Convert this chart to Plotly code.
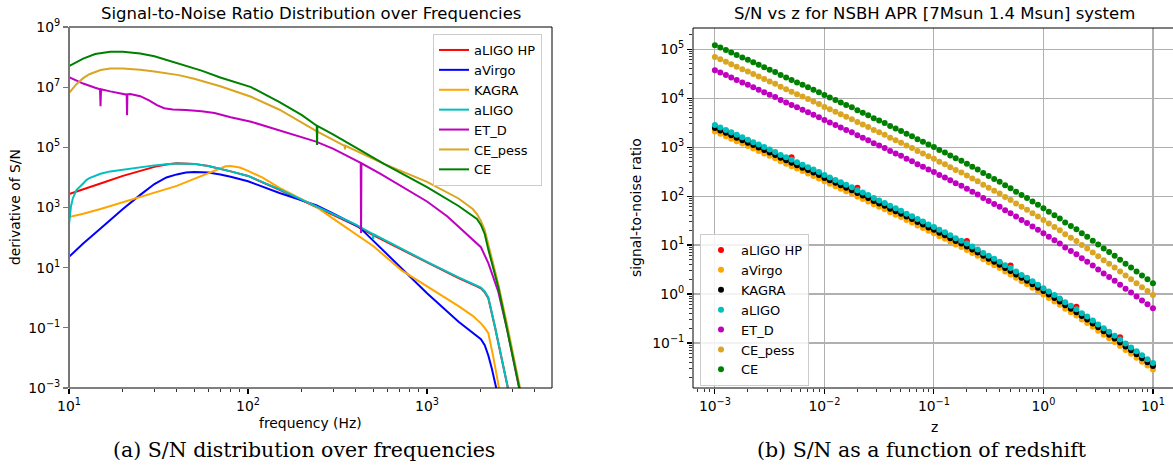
import numpy as np
import plotly.graph_objects as go

W, H = 1173, 466

# ---------------- Panel (a): derivative of S/N vs frequency (values read as log10) ----------------
f_aligo_hp = [10, 12, 15, 20, 25, 30, 35, 40, 50, 60, 80, 100, 150, 200, 240, 300, 400, 500, 700,
              1000, 1500, 1900, 2000, 2100, 2200, 2400, 2600, 2900]
lg_aligo_hp = [3.45, 3.6, 3.8, 4.05, 4.22, 4.35, 4.43, 4.47, 4.45, 4.38, 4.2, 4.05, 3.59, 3.25, 3.03,
               2.75, 2.4, 2.08, 1.64, 1.17, 0.65, 0.38, 0.31, 0.18, -0.02, -1.0, -1.95, -3.3]

f_avirgo = [10, 12, 15, 20, 25, 30, 35, 40, 45, 50, 60, 70, 80, 100, 150, 200, 240, 300, 417, 500,
            660, 1000, 1500, 1700, 1900, 2000, 2100, 2200, 2300, 2500]
lg_avirgo = [1.36, 1.8, 2.3, 2.95, 3.42, 3.78, 4.0, 4.1, 4.16, 4.18, 4.16, 4.1, 4.02, 3.87, 3.48,
             3.22, 3.08, 2.8, 2.36, 1.9, 1.2, 0.15, -0.8, -1.05, -1.25, -1.38, -1.58, -1.92, -2.35, -3.3]

f_kagra = [10, 12, 15, 20, 25, 30, 35, 40, 50, 60, 70, 75, 80, 90, 100, 120, 150, 200, 240, 300,
           400, 500, 725, 1000, 1500, 1800, 2000, 2100, 2200, 2350, 2560]
lg_kagra = [2.68, 2.79, 2.95, 3.17, 3.34, 3.49, 3.62, 3.72, 3.95, 4.15, 4.32, 4.37, 4.38, 4.33, 4.22,
            4.0, 3.65, 3.27, 3.03, 2.62, 2.12, 1.72, 0.9, 0.38, -0.28, -0.6, -0.85, -1.0, -1.18,
            -2.0, -3.2]

f_aligo = [10, 10.1, 10.25, 10.5, 11, 12, 12.5, 13, 15, 17, 20, 25, 30, 35, 40, 50, 60, 80, 100,
           150, 200, 240, 300, 400, 496, 500, 504, 700, 1000, 1500, 1900, 2000, 2100, 2200, 2400,
           2600, 2900]
lg_aligo = [2.42, 2.75, 3.03, 3.3, 3.58, 3.8, 3.91, 3.98, 4.12, 4.2, 4.26, 4.34, 4.4, 4.44, 4.46,
            4.45, 4.38, 4.2, 4.05, 3.6, 3.26, 3.04, 2.77, 2.43, 2.12, 1.95, 2.11, 1.66, 1.19, 0.68,
            0.41, 0.34, 0.21, 0.01, -0.98, -1.93, -3.3]

f_etd = [10, 12, 14, 14.9, 15.0, 15.1, 17, 20, 21.0, 21.1, 21.2, 22, 25, 28, 31, 34, 38, 45, 55,
         65, 80, 104, 150, 240, 300, 426, 428, 430, 550, 700, 1000, 1300, 1670, 2000, 2200, 2500,
         2800, 3100, 3400]
lg_etd = [7.33, 7.12, 6.98, 6.93, 6.37, 6.93, 6.86, 6.77, 6.75, 6.07, 6.76, 6.77, 6.7, 6.56, 6.4,
          6.3, 6.26, 6.24, 6.2, 6.14, 6.0, 5.85, 5.55, 5.19, 4.95, 4.48, 2.15, 4.47, 4.12, 3.75,
          3.2, 2.7, 2.12, 1.68, 1.15, 0.2, -1.05, -2.3, -3.5]

f_ce_pess = [10, 11, 12, 13, 15, 17, 20, 25, 30, 41, 50, 70, 104, 150, 240, 346, 348, 350, 575,
             1000, 1500, 1800, 1900, 2000, 2100, 2200, 2500, 2800, 3100, 3400]
lg_ce_pess = [6.8, 7.1, 7.3, 7.43, 7.57, 7.62, 7.62, 7.58, 7.52, 7.4, 7.28, 7.03, 6.68, 6.25, 5.55,
              5.05, 4.93, 5.05, 4.45, 3.85, 3.3, 2.95, 2.78, 2.55, 2.25, 1.75, 0.45, -0.9, -2.15,
              -3.35]

f_ce = [10, 12, 14, 17, 20, 25, 30, 40, 55, 70, 104, 150, 200, 242, 243, 244, 300, 400, 575, 1000,
        1500, 1900, 2000, 2100, 2200, 2500, 2800, 3100, 3400]
lg_ce = [7.7, 7.95, 8.1, 8.18, 8.18, 8.12, 8.03, 7.8, 7.55, 7.32, 7.0, 6.5, 6.07, 5.72, 5.08, 5.71,
         5.42, 4.99, 4.45, 3.68, 3.05, 2.62, 2.42, 2.12, 1.6, 0.35, -1.0, -2.25, -3.45]

# ---------------- Panel (b): S/N vs redshift (values read as log10) ----------------
z_vals = [0.001, 0.00112, 0.00126, 0.00141, 0.00158, 0.00178, 0.002, 0.00224, 0.00251, 0.00282,
          0.00316, 0.00355, 0.00398, 0.00447, 0.00501, 0.00562, 0.00631, 0.00708, 0.00794, 0.00891,
          0.01, 0.0112, 0.0126, 0.0141, 0.0158, 0.0178, 0.02, 0.0224, 0.0251, 0.0282,
          0.0316, 0.0355, 0.0398, 0.0447, 0.0501, 0.0562, 0.0631, 0.0708, 0.0794, 0.0891,
          0.1, 0.112, 0.126, 0.141, 0.158, 0.178, 0.2, 0.224, 0.251, 0.282,
          0.316, 0.355, 0.398, 0.447, 0.501, 0.562, 0.631, 0.708, 0.794, 0.891,
          1.0, 1.12, 1.26, 1.41, 1.58, 1.78, 2.0, 2.24, 2.51, 2.82,
          3.16, 3.55, 3.98, 4.47, 5.01, 5.62, 6.31, 7.08, 7.94, 8.91, 10.0]

lgz_aligo_hp = [3.43, 3.38, 3.33, 3.28, 3.23, 3.18, 3.13, 3.08, 3.03, 2.98,
                2.93, 2.88, 2.82, 2.77, 2.79, 2.67, 2.62, 2.57, 2.52, 2.47,
                2.41, 2.36, 2.31, 2.26, 2.21, 2.16, 2.17, 2.05, 2.00, 1.94,
                1.89, 1.84, 1.78, 1.73, 1.68, 1.62, 1.57, 1.51, 1.46, 1.40,
                1.35, 1.29, 1.24, 1.18, 1.12, 1.07, 1.08, 0.95, 0.89, 0.82,
                0.76, 0.70, 0.64, 0.57, 0.58, 0.44, 0.37, 0.31, 0.24, 0.17,
                0.10, 0.03, -0.04, -0.11, -0.19, -0.26, -0.26, -0.41, -0.48, -0.56,
                -0.64, -0.72, -0.79, -0.87, -0.88, -1.03, -1.11, -1.19, -1.27, -1.35, -1.43]
lgz_avirgo = [3.32, 3.27, 3.22, 3.17, 3.12, 3.07, 3.02, 2.97, 2.92, 2.87,
              2.82, 2.77, 2.71, 2.66, 2.61, 2.56, 2.51, 2.46, 2.41, 2.36,
              2.30, 2.25, 2.20, 2.15, 2.10, 2.05, 1.99, 1.94, 1.89, 1.83,
              1.78, 1.73, 1.67, 1.62, 1.57, 1.51, 1.46, 1.40, 1.35, 1.29,
              1.24, 1.18, 1.13, 1.07, 1.01, 0.96, 0.90, 0.84, 0.78, 0.71,
              0.65, 0.59, 0.53, 0.46, 0.40, 0.33, 0.26, 0.20, 0.13, 0.06,
              -0.01, -0.08, -0.15, -0.22, -0.30, -0.37, -0.44, -0.52, -0.59, -0.67,
              -0.75, -0.83, -0.90, -0.98, -1.06, -1.14, -1.22, -1.30, -1.38, -1.46, -1.54]
lgz_kagra = [3.39, 3.34, 3.29, 3.24, 3.19, 3.14, 3.09, 3.04, 2.99, 2.94,
             2.89, 2.84, 2.78, 2.73, 2.68, 2.63, 2.58, 2.53, 2.48, 2.43,
             2.37, 2.32, 2.27, 2.22, 2.17, 2.12, 2.06, 2.01, 1.96, 1.90,
             1.85, 1.80, 1.74, 1.69, 1.64, 1.58, 1.53, 1.47, 1.42, 1.36,
             1.31, 1.25, 1.20, 1.14, 1.08, 1.03, 0.97, 0.91, 0.85, 0.78,
             0.72, 0.66, 0.60, 0.53, 0.47, 0.40, 0.33, 0.27, 0.20, 0.13,
             0.06, -0.01, -0.08, -0.15, -0.23, -0.30, -0.37, -0.45, -0.52, -0.60,
             -0.68, -0.76, -0.83, -0.91, -0.99, -1.07, -1.15, -1.23, -1.31, -1.39, -1.47]
lgz_aligo = [3.45, 3.40, 3.35, 3.30, 3.25, 3.20, 3.15, 3.10, 3.05, 3.00,
             2.95, 2.90, 2.84, 2.79, 2.74, 2.69, 2.64, 2.59, 2.54, 2.49,
             2.43, 2.38, 2.33, 2.28, 2.23, 2.18, 2.12, 2.07, 2.02, 1.96,
             1.91, 1.86, 1.80, 1.75, 1.70, 1.64, 1.59, 1.53, 1.48, 1.42,
             1.37, 1.31, 1.26, 1.20, 1.14, 1.09, 1.03, 0.97, 0.91, 0.84,
             0.78, 0.72, 0.66, 0.59, 0.53, 0.46, 0.39, 0.33, 0.26, 0.19,
             0.12, 0.05, -0.02, -0.09, -0.17, -0.24, -0.31, -0.39, -0.46, -0.54,
             -0.62, -0.70, -0.77, -0.85, -0.93, -1.01, -1.09, -1.17, -1.25, -1.33, -1.41]
lgz_etd = [4.57, 4.52, 4.47, 4.42, 4.37, 4.32, 4.27, 4.22, 4.17, 4.12,
           4.07, 4.02, 3.96, 3.91, 3.86, 3.81, 3.76, 3.71, 3.66, 3.61,
           3.55, 3.50, 3.45, 3.40, 3.35, 3.30, 3.24, 3.19, 3.14, 3.08,
           3.03, 2.98, 2.92, 2.87, 2.82, 2.76, 2.71, 2.65, 2.60, 2.54,
           2.49, 2.43, 2.38, 2.32, 2.26, 2.21, 2.15, 2.09, 2.03, 1.96,
           1.90, 1.84, 1.78, 1.71, 1.65, 1.58, 1.51, 1.45, 1.38, 1.31,
           1.24, 1.17, 1.10, 1.03, 0.95, 0.88, 0.81, 0.73, 0.66, 0.58,
           0.50, 0.42, 0.35, 0.27, 0.19, 0.11, 0.03, -0.05, -0.13, -0.21, -0.29]
lgz_ce_pess = [4.84, 4.79, 4.74, 4.69, 4.64, 4.59, 4.54, 4.49, 4.44, 4.39,
               4.34, 4.29, 4.23, 4.18, 4.13, 4.08, 4.03, 3.98, 3.93, 3.88,
               3.82, 3.77, 3.72, 3.67, 3.62, 3.57, 3.51, 3.46, 3.41, 3.35,
               3.30, 3.25, 3.19, 3.14, 3.09, 3.03, 2.98, 2.92, 2.87, 2.81,
               2.76, 2.70, 2.65, 2.59, 2.53, 2.48, 2.42, 2.36, 2.30, 2.23,
               2.17, 2.11, 2.05, 1.98, 1.92, 1.85, 1.78, 1.72, 1.65, 1.58,
               1.51, 1.44, 1.37, 1.30, 1.22, 1.15, 1.08, 1.00, 0.93, 0.85,
               0.77, 0.69, 0.62, 0.54, 0.46, 0.38, 0.30, 0.22, 0.14, 0.06, -0.02]
lgz_ce = [5.08, 5.03, 4.98, 4.93, 4.88, 4.83, 4.78, 4.73, 4.68, 4.63,
          4.58, 4.53, 4.47, 4.42, 4.37, 4.32, 4.27, 4.22, 4.17, 4.12,
          4.06, 4.01, 3.96, 3.91, 3.86, 3.81, 3.75, 3.70, 3.65, 3.59,
          3.54, 3.49, 3.43, 3.38, 3.33, 3.27, 3.22, 3.16, 3.11, 3.05,
          3.00, 2.94, 2.89, 2.83, 2.77, 2.72, 2.66, 2.60, 2.54, 2.47,
          2.41, 2.35, 2.29, 2.22, 2.16, 2.09, 2.02, 1.96, 1.89, 1.82,
          1.75, 1.68, 1.61, 1.54, 1.46, 1.39, 1.32, 1.24, 1.17, 1.09,
          1.01, 0.93, 0.86, 0.78, 0.70, 0.62, 0.54, 0.46, 0.38, 0.30, 0.22]

names = ["aLIGO HP", "aVirgo", "KAGRA", "aLIGO", "ET_D", "CE_pess", "CE"]
left_series = [(f_aligo_hp, lg_aligo_hp), (f_avirgo, lg_avirgo), (f_kagra, lg_kagra),
               (f_aligo, lg_aligo), (f_etd, lg_etd), (f_ce_pess, lg_ce_pess), (f_ce, lg_ce)]
left_colors = ["#ff0000", "#0000ff", "#ffa500", "#00bfbf", "#bf00bf", "#daa520", "#008000"]
right_series = [lgz_aligo_hp, lgz_avirgo, lgz_kagra, lgz_aligo, lgz_etd, lgz_ce_pess, lgz_ce]
right_colors = ["#ff0000", "#ffa500", "#000000", "#00bfbf", "#bf00bf", "#daa520", "#008000"]

FONT = "DejaVu Sans"
FS = 13.9
LFS = 13
fig = go.Figure()

for name, (fx, ly), col in zip(names, left_series, left_colors):
    fig.add_trace(go.Scatter(x=fx, y=np.power(10.0, ly), mode="lines", name=name,
                             line=dict(color=col, width=2), xaxis="x", yaxis="y",
                             legend="legend", hoverinfo="skip"))

for name, ly, col in zip(names, right_series, right_colors):
    fig.add_trace(go.Scatter(x=z_vals, y=np.power(10.0, ly), mode="markers", name=name,
                             marker=dict(color=col, size=6, line=dict(width=0)),
                             xaxis="x2", yaxis="y2", legend="legend2", hoverinfo="skip"))

def sup(e):
    return "10<sup>%s</sup>" % str(e).replace("-", "\u2212")

tickfont = dict(family=FONT, size=FS, color="#000000")

minor_f = [20, 30, 40, 50, 60, 70, 80, 90, 200, 300, 400, 500, 600, 700, 800, 900, 2000, 3000, 4000, 5000]
minor_z = [m * 10.0 ** d for d in range(-4, 2) for m in range(2, 10)]
minor_s = [m * 10.0 ** d for d in range(-2, 6) for m in range(2, 10)]

common = dict(automargin=False, zeroline=False, showline=False, ticks="outside",
              ticklen=5, tickwidth=1.1, tickfont=tickfont)

fig.update_layout(
    width=W, height=H, margin=dict(l=0, r=0, t=0, b=0, autoexpand=False),
    paper_bgcolor="white", plot_bgcolor="white",
    font=dict(family=FONT, size=FS, color="black"),
    xaxis=dict(type="log", range=[1, 3.698], domain=[69 / W, 552 / W], anchor="y",
               showgrid=False, tickcolor="black",
               tickvals=[10, 100, 1000], ticktext=[sup(1), sup(2), sup(3)],
               minor=dict(tickvals=minor_f, ticks="outside", ticklen=3, tickwidth=0.8,
                          tickcolor="black", showgrid=False), **common),
    yaxis=dict(type="log", range=[-3, 9], domain=[1 - 388 / H, 1 - 27 / H], anchor="x",
               showgrid=False, tickcolor="#777777",
               tickvals=[1e-3, 1e-1, 1e1, 1e3, 1e5, 1e7, 1e9],
               ticktext=[sup(-3), sup(-1), sup(1), sup(3), sup(5), sup(7), sup(9)], **common),
    xaxis2=dict(type="log", range=[-3.2, 1.183], domain=[693 / W, 1.0], anchor="y2",
                showgrid=True, gridcolor="#b0b0b0", gridwidth=1.1, tickcolor="black",
                tickvals=[1e-3, 1e-2, 1e-1, 1, 10],
                ticktext=[sup(-3), sup(-2), sup(-1), sup(0), sup(1)],
                minor=dict(tickvals=minor_z, ticks="outside", ticklen=3, tickwidth=0.8,
                           tickcolor="black", showgrid=False), **common),
    yaxis2=dict(type="log", range=[-1.918, 5.43], domain=[1 - 388 / H, 1 - 28 / H], anchor="x2",
                showgrid=True, gridcolor="#b0b0b0", gridwidth=1.1, tickcolor="black",
                tickvals=[1e-1, 1, 10, 100, 1e3, 1e4, 1e5],
                ticktext=[sup(-1), sup(0), sup(1), sup(2), sup(3), sup(4), sup(5)],
                minor=dict(tickvals=minor_s, ticks="outside", ticklen=3, tickwidth=0.8,
                           tickcolor="black", showgrid=False), **common),
    legend=dict(x=433 / W, y=1 - 34 / H, xanchor="left", yanchor="top",
                bgcolor="rgba(255,255,255,0.85)", bordercolor="#cccccc", borderwidth=1,
                font=dict(family=FONT, size=LFS, color="black")),
    legend2=dict(x=700 / W, y=1 - 234 / H, xanchor="left", yanchor="top",
                 bgcolor="rgba(255,255,255,0.85)", bordercolor="#cccccc", borderwidth=1,
                 font=dict(family=FONT, size=LFS, color="black")),
    showlegend=True,
)

# spines
shapes = []
def spine(xr, yr, x0, y0, x1, y1, color="black", width=1):
    shapes.append(dict(type="line", xref=xr, yref=yr, x0=x0, y0=y0, x1=x1, y1=y1,
                       line=dict(color=color, width=width), layer="above"))
spine("x domain", "y domain", 0, 0, 1, 0)
spine("x domain", "y domain", 0, 1, 1, 1)
spine("x domain", "y domain", 1, 0, 1, 1)
spine("x domain", "y domain", 0, 0, 0, 1, color="#777777", width=2)
spine("x2 domain", "y2 domain", 0, 0, 1, 0)
spine("x2 domain", "y2 domain", 0, 1, 1, 1)
spine("x2 domain", "y2 domain", 0, 0, 0, 1)
fig.update_layout(shapes=shapes)

ann = []
def text(x, y, s, size, family=FONT, angle=0):
    ann.append(dict(x=x / W, y=1 - y / H, xref="paper", yref="paper", text=s, showarrow=False,
                    xanchor="center", yanchor="middle", textangle=angle,
                    font=dict(family=family, size=size, color="black")))
text(310.5, 13, "Signal-to-Noise Ratio Distribution over Frequencies", 16.5)
text(934, 13, "S/N vs z for NSBH APR [7Msun 1.4 Msun] system", 16.5)
text(310.5, 423, "frequency (Hz)", FS)
text(934, 427, "z", FS)
text(15, 207, "derivative of S/N", FS, angle=-90)
text(636, 208, "signal-to-noise ratio", FS, angle=-90)
text(304, 450, "(a) S/N distribution over frequencies", 20.5, family="DejaVu Serif")
text(922, 450, "(b) S/N as a function of redshift", 20.5, family="DejaVu Serif")
fig.update_layout(annotations=ann)

fig.write_html("out.html", config={"displayModeBar": False, "staticPlot": True},
               post_script="document.body.style.margin='0px';document.body.style.overflow='hidden';")
